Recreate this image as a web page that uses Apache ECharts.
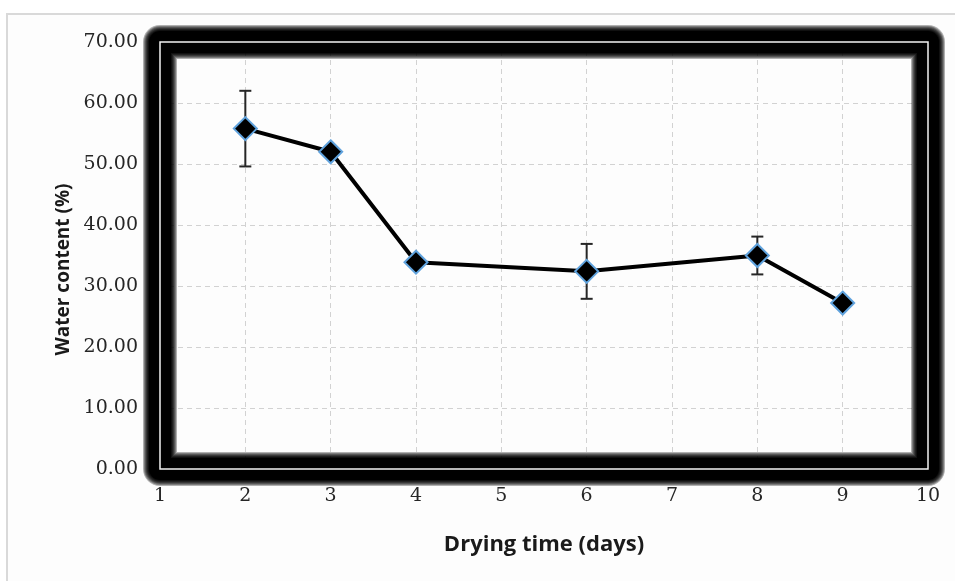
<!DOCTYPE html>
<html>
<head>
<meta charset="utf-8">
<script src="https://cdn.jsdelivr.net/npm/echarts@6/dist/echarts.min.js"></script>
<style>
  html, body { margin: 0; padding: 0; background: #ffffff; }
  #chart { width: 955px; height: 581px; }
</style>
</head>
<body>
<div id="chart"></div>
<script>
// Drying time (days) and measured water content (%) with standard deviation
const days = [2, 3, 4, 6, 8, 9];
const waterContent = [55.8, 52.0, 33.9, 32.4, 35.0, 27.2];
const stdDev = [6.2, 0, 0, 4.5, 3.1, 0];

const xTicks = [1, 2, 3, 4, 5, 6, 7, 8, 9, 10];
const yTicks = [0, 10, 20, 30, 40, 50, 60, 70];

const points = days.map((d, i) => [d, waterContent[i]]);
const errRows = days.map((d, i) => [d, waterContent[i], stdDev[i]]).filter(r => r[2] > 0);

const chart = echarts.init(document.getElementById('chart'), null, { renderer: 'canvas' });

const labelFont = { fontFamily: 'DejaVu Serif', fontSize: 19, color: '#262626' };
const titleFont = { fontFamily: 'Open Sans', fontWeight: 'bold', color: '#1a1a1a' };

// soft-edged frame: stacked translucent strokes, widest first, solid core last
const frameLayers = [
  { w: 34, a: 0.3 },
  { w: 32, a: 0.3 },
  { w: 30, a: 0.3 },
  { w: 28, a: 0.35 },
  { w: 26, a: 0.4 },
  { w: 24, a: 0.5 },
  { w: 22, a: 1 }
];

chart.setOption({
  backgroundColor: '#ffffff',
  animation: false,
  graphic: [{
    type: 'rect',
    z: -10,
    shape: { x: 7, y: 14, width: 970, height: 590 },
    style: { fill: '#fdfdfd', stroke: '#d9d9d9', lineWidth: 2 },
    silent: true
  }],
  grid: { left: 160, top: 42, right: 27, bottom: 112, containLabel: false },
  xAxis: {
    type: 'value',
    min: xTicks[0],
    max: xTicks[xTicks.length - 1],
    interval: 1,
    name: 'Drying time (days)',
    nameLocation: 'middle',
    nameGap: 65,
    nameTextStyle: Object.assign({ fontSize: 22 }, titleFont),
    axisLine: { show: false },
    axisTick: { show: false },
    axisLabel: Object.assign({ margin: 18 }, labelFont),
    splitLine: { show: true, lineStyle: { color: '#d2d2d2', width: 1, type: [5, 4] } }
  },
  yAxis: {
    type: 'value',
    min: yTicks[0],
    max: yTicks[yTicks.length - 1],
    interval: 10,
    name: 'Water content (%)',
    nameLocation: 'middle',
    nameGap: 86,
    nameTextStyle: Object.assign({ fontSize: 19, padding: [0, 28, 0, 0] }, titleFont),
    axisLine: { show: false },
    axisTick: { show: false },
    axisLabel: Object.assign({ margin: 22, formatter: v => v.toFixed(2) }, labelFont),
    splitLine: { show: true, lineStyle: { color: '#d2d2d2', width: 1, type: [5, 4] } }
  },
  series: [
    {
      // heavy frame around the plot area, with a thin light edge line on top
      type: 'custom',
      z: 1,
      silent: true,
      clip: false,
      data: [[xTicks[0], yTicks[0]]],
      renderItem: function (params) {
        const r = params.coordSys;
        const shape = { x: r.x, y: r.y, width: r.width, height: r.height };
        const children = frameLayers.map(l => ({
          type: 'rect', shape: shape,
          style: { fill: 'none', stroke: 'rgba(0,0,0,' + l.a + ')', lineWidth: l.w, lineJoin: 'round' }
        }));
        children.push({ type: 'rect', shape: shape,
          style: { fill: 'none', stroke: '#f2f2f2', lineWidth: 1.5 } });
        return { type: 'group', children: children };
      }
    },
    {
      // standard deviation whiskers
      type: 'custom',
      z: 3,
      silent: true,
      data: errRows,
      renderItem: function (params, api) {
        const x = api.value(0), y = api.value(1), e = api.value(2);
        const top = api.coord([x, y + e]);
        const bot = api.coord([x, y - e]);
        const cap = 6;
        const st = { stroke: '#262626', lineWidth: 2 };
        return {
          type: 'group',
          children: [
            { type: 'line', shape: { x1: top[0], y1: top[1], x2: bot[0], y2: bot[1] }, style: st },
            { type: 'line', shape: { x1: top[0] - cap, y1: top[1], x2: top[0] + cap, y2: top[1] }, style: st },
            { type: 'line', shape: { x1: bot[0] - cap, y1: bot[1], x2: bot[0] + cap, y2: bot[1] }, style: st }
          ]
        };
      }
    },
    {
      type: 'line',
      z: 4,
      data: points,
      symbol: 'diamond',
      symbolSize: 23,
      lineStyle: { color: '#000', width: 4 },
      itemStyle: { color: '#000', borderColor: '#5fa2dd', borderWidth: 2 }
    }
  ]
});
</script>
</body>
</html>
